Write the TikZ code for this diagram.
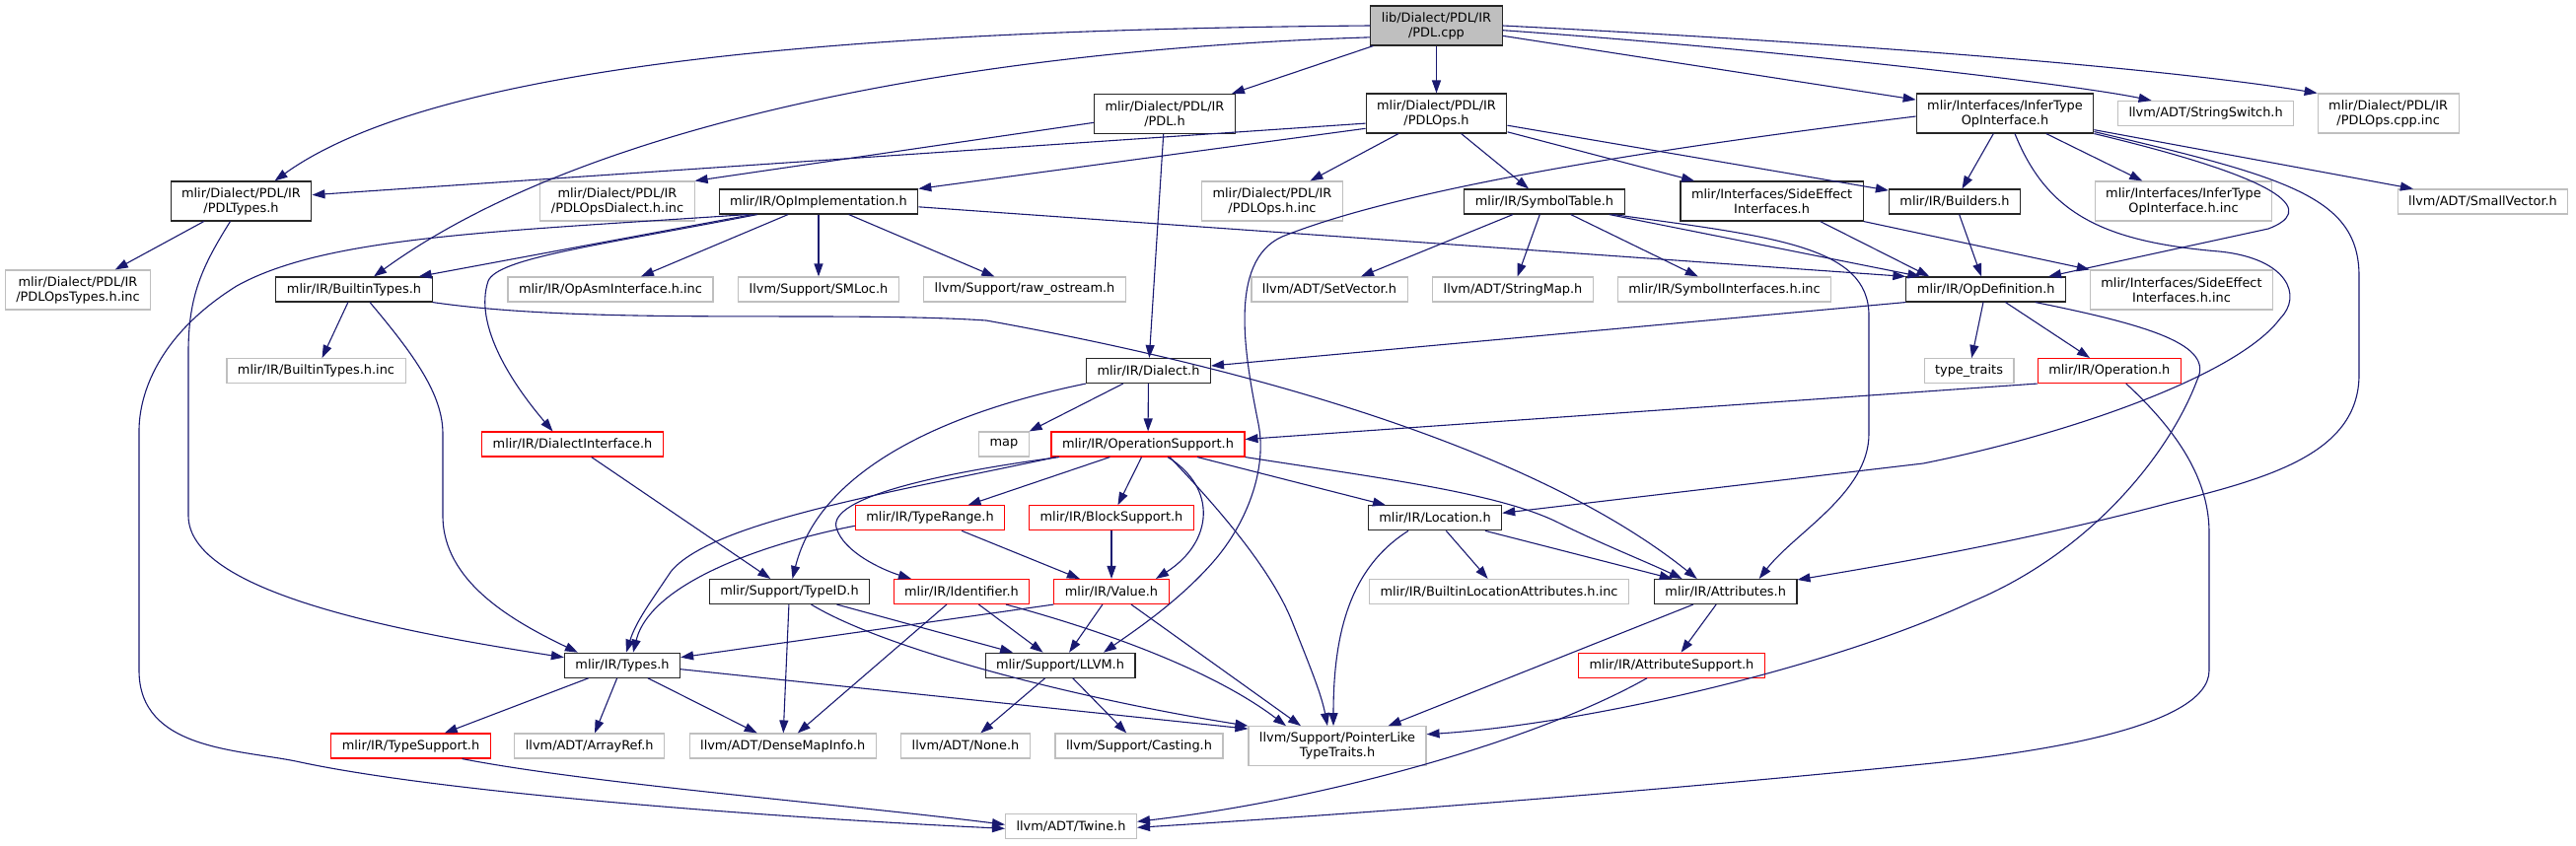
\documentclass[tikz,border=0pt]{standalone}
\usepackage{fontspec}
\setmainfont{DejaVu Sans}
\usetikzlibrary{arrows.meta}

\definecolor{extgray}{HTML}{BFBFBF}
\definecolor{edgeblue}{HTML}{191970}
\newcommand\dxfont{\fontsize{12.9}{15}\selectfont}

\begin{document}
\begin{tikzpicture}[
  x=1pt, y=-1pt,
  hdr/.style={draw=black!85, fill=white, line width=1.1pt, font=\dxfont, inner xsep=11pt, inner ysep=6pt, minimum height=25pt, align=center},
  ext/.style={hdr, draw=extgray},
  inc/.style={hdr, draw=red},
  root/.style={hdr, fill=extgray},
  dep/.style={-{Triangle[length=13pt,width=9pt]}, line width=1.1pt, color=edgeblue}
]
  \useasboundingbox (0,0) rectangle (2612,857);

  % Source file
  \node[root, minimum height=40pt] at (1456.5,26) (pdlcpp) {lib/Dialect/PDL/IR\\/PDL.cpp};

  % First level includes
  \node[hdr, minimum height=40pt] at (1181,115.5) (pdlh) {mlir/Dialect/PDL/IR\\/PDL.h};
  \node[hdr, minimum height=40pt] at (1456.5,115) (pdlops) {mlir/Dialect/PDL/IR\\/PDLOps.h};
  \node[hdr, minimum height=40pt] at (2033,115) (infertype) {mlir/Interfaces/InferType\\OpInterface.h};
  \node[ext] at (2236.6,115) (stringswitch) {llvm/ADT/StringSwitch.h};
  \node[ext, minimum height=40pt] at (2421.6,115) (pdlopscppinc) {mlir/Dialect/PDL/IR\\/PDLOps.cpp.inc};

  % Second level
  \node[hdr, minimum height=40pt] at (244.5,204) (pdltypes) {mlir/Dialect/PDL/IR\\/PDLTypes.h};
  \node[ext, minimum height=40pt] at (626,204) (pdldialectinc) {mlir/Dialect/PDL/IR\\/PDLOpsDialect.h.inc};
  \node[hdr] at (830,204.5) (opimpl) {mlir/IR/OpImplementation.h};
  \node[ext, minimum height=40pt] at (1290,204) (pdlopsinc) {mlir/Dialect/PDL/IR\\/PDLOps.h.inc};
  \node[hdr] at (1566,204.5) (symtab) {mlir/IR/SymbolTable.h};
  \node[hdr, minimum height=40pt] at (1796.6,204) (sideeff) {mlir/Interfaces/SideEffect\\Interfaces.h};
  \node[hdr] at (1982,204.5) (builders) {mlir/IR/Builders.h};
  \node[ext, minimum height=40pt] at (2214,204) (infertypeinc) {mlir/Interfaces/InferType\\OpInterface.h.inc};
  \node[ext] at (2517.5,204.5) (smallvec) {llvm/ADT/SmallVector.h};

  % Third level
  \node[ext, minimum height=40pt] at (79,294) (pdltypesinc) {mlir/Dialect/PDL/IR\\/PDLOpsTypes.h.inc};
  \node[hdr] at (359,293.5) (builtintypes) {mlir/IR/BuiltinTypes.h};
  \node[ext] at (619,293.5) (opasminc) {mlir/IR/OpAsmInterface.h.inc};
  \node[ext] at (830,293.5) (smloc) {llvm/Support/SMLoc.h};
  \node[ext] at (1039,293.5) (rawostream) {llvm/Support/raw\_ostream.h};
  \node[ext] at (1348,293.5) (setvector) {llvm/ADT/SetVector.h};
  \node[ext] at (1534,293.5) (stringmap) {llvm/ADT/StringMap.h};
  \node[ext] at (1748.5,293.5) (symifinc) {mlir/IR/SymbolInterfaces.h.inc};
  \node[hdr] at (2013.7,293.5) (opdef) {mlir/IR/OpDefinition.h};
  \node[ext, minimum height=40pt] at (2212,294) (sideeffinc) {mlir/Interfaces/SideEffect\\Interfaces.h.inc};

  % Dialect row
  \node[ext] at (320.5,376) (builtintypesinc) {mlir/IR/BuiltinTypes.h.inc};
  \node[hdr] at (1164.5,376) (dialect) {mlir/IR/Dialect.h};
  \node[ext] at (1996.5,376) (typetraits) {type\_traits};
  \node[inc] at (2138.8,376) (operation) {mlir/IR/Operation.h};
  \node[inc] at (580.5,450.5) (dialectif) {mlir/IR/DialectInterface.h};
  \node[ext] at (1018,450.5) (map) {map};
  \node[inc] at (1164,450.5) (opsupport) {mlir/IR/OperationSupport.h};

  % Support row
  \node[inc] at (943,525.3) (typerange) {mlir/IR/TypeRange.h};
  \node[inc] at (1127,525.3) (blocksupport) {mlir/IR/BlockSupport.h};
  \node[hdr] at (1455,525.3) (location) {mlir/IR/Location.h};
  \node[hdr] at (800.5,600) (typeid) {mlir/Support/TypeID.h};
  \node[inc] at (975,600) (identifier) {mlir/IR/Identifier.h};
  \node[inc] at (1127,600) (value) {mlir/IR/Value.h};
  \node[ext] at (1520,600) (builtinlocinc) {mlir/IR/BuiltinLocationAttributes.h.inc};
  \node[hdr] at (1749.7,600) (attributes) {mlir/IR/Attributes.h};
  \node[hdr] at (631,674.7) (types) {mlir/IR/Types.h};
  \node[hdr] at (1075,674.7) (llvm) {mlir/Support/LLVM.h};
  \node[inc] at (1695,674.7) (attrsupport) {mlir/IR/AttributeSupport.h};

  % Leaves
  \node[inc] at (416.5,756.5) (typesupport) {mlir/IR/TypeSupport.h};
  \node[ext] at (597.7,756.5) (arrayref) {llvm/ADT/ArrayRef.h};
  \node[ext] at (793.7,756.5) (densemap) {llvm/ADT/DenseMapInfo.h};
  \node[ext] at (979,756.5) (none) {llvm/ADT/None.h};
  \node[ext] at (1155,756.5) (casting) {llvm/Support/Casting.h};
  \node[ext, minimum height=40pt] at (1356,756.7) (pointerlike) {llvm/Support/PointerLike\\TypeTraits.h};
  \node[ext] at (1086,838.3) (twine) {llvm/ADT/Twine.h};

  % from PDL.cpp
  \draw[dep] (pdlcpp.west) .. controls (900,30) and (450,60) .. ([xshift=34pt]pdltypes.north);
  \draw[dep] (pdlcpp.190) .. controls (1000,50) and (600,120) .. ([xshift=20pt]builtintypes.north);
  \draw[dep] ([xshift=3pt]pdlcpp.south west) -- ([xshift=-4pt]pdlh.north east);
  \draw[dep] (pdlcpp) -- (pdlops);
  \draw[dep] (pdlcpp) -- (infertype);
  \draw[dep] (pdlcpp.356) .. controls (1800,50) and (2100,85) .. ([xshift=-55pt]stringswitch.north);
  \draw[dep] (pdlcpp.east) .. controls (1900,45) and (2200,70) .. (pdlopscppinc.north west);

  % from PDL.h and PDLOps.h
  \draw[dep] (pdlh.187) -- (pdldialectinc.north east);
  \draw[dep] (pdlh) -- (dialect);
  \draw[dep] (pdlops.188) -- (pdltypes.5);
  \draw[dep] (pdlops.192) -- (opimpl.north east);
  \draw[dep] (pdlops) -- (pdlopsinc);
  \draw[dep] (pdlops) -- (symtab);
  \draw[dep] (pdlops) -- (sideeff);
  \draw[dep] (pdlops) -- (builders);

  % from InferTypeOpInterface.h
  \draw[dep] (infertype) -- (builders);
  \draw[dep] (infertype) -- (infertypeinc);
  \draw[dep] (infertype) -- (smallvec);
  \draw[dep] (infertype.south east) .. controls (2330,185) and (2345,215) .. (2300,232) -- ([xshift=-18pt]opdef.north east);
  \draw[dep] ([xshift=10pt]infertype.south) .. controls (2075,215) and (2130,245) .. (2250,255) .. controls (2320,262) and (2335,300) .. (2312,323) .. controls (2270,380) and (2100,440) .. (1950,470) -- ([yshift=5pt]location.east);
  \draw[dep] ([yshift=2pt]infertype.south east) .. controls (2320,180) and (2392,200) .. (2392,280) -- (2392,380) .. controls (2392,460) and (2300,485) .. (2200,510) .. controls (2050,550) and (1900,575) .. ([yshift=12pt]attributes.east);
  \draw[dep] ([yshift=-3pt]infertype.west) .. controls (1600,160) and (1400,200) .. (1300,240) .. controls (1245,265) and (1262,360) .. (1276,430) .. controls (1285,475) and (1265,530) .. (1230,570) .. controls (1195,610) and (1150,640) .. ([xshift=44pt]llvm.north);

  % from PDLTypes.h
  \draw[dep] (pdltypes) -- (pdltypesinc);
  \draw[dep] ([xshift=-11pt]pdltypes.south) .. controls (205,270) and (191,300) .. (191,357) -- (191,523) .. controls (191,600) and (400,640) .. ([yshift=8pt]types.west);

  % from OpImplementation.h
  \draw[dep] ([xshift=-67pt]opimpl.south) -- ([xshift=-14pt]builtintypes.north east);
  \draw[dep] (opimpl) -- (opasminc);
  \draw[dep] (opimpl) -- (smloc);
  \draw[dep] (opimpl) -- (rawostream);
  \draw[dep] (opimpl.357) -- (opdef.north west);
  \draw[dep] ([xshift=-62pt]opimpl.south) .. controls (600,250) and (505,262) .. (495,285) .. controls (480,330) and (520,390) .. ([xshift=-20pt]dialectif.north);
  \draw[dep] ([xshift=-72pt]opimpl.south) .. controls (500,235) and (330,240) .. (240,290) .. controls (160,340) and (141,400) .. (141,437) -- (141,680) .. controls (141,760) and (240,760) .. (300,772) .. controls (450,805) and (800,830) .. ([yshift=-2pt]twine.west);

  % from SymbolTable.h, SideEffectInterfaces.h, Builders.h
  \draw[dep] (symtab) -- (setvector);
  \draw[dep] (symtab) -- (stringmap);
  \draw[dep] (symtab) -- (symifinc);
  \draw[dep] ([xshift=-16pt]symtab.south east) -- ([xshift=15pt]opdef.north west);
  \draw[dep] ([xshift=-12pt]symtab.south east) .. controls (1800,240) and (1895,250) .. (1895,320) -- (1895,440) .. controls (1895,500) and (1820,540) .. ([xshift=34pt]attributes.north);
  \draw[dep] ([xshift=49pt]sideeff.south) -- ([xshift=24pt]opdef.north west);
  \draw[dep] (sideeff.south east) -- (sideeffinc.north west);
  \draw[dep] (builders) -- (opdef);

  % from BuiltinTypes.h
  \draw[dep] (builtintypes) -- (builtintypesinc);
  \draw[dep] ([xshift=16pt]builtintypes.south) .. controls (420,360) and (449,400) .. (449,440) -- (449,523) .. controls (449,590) and (520,630) .. ([xshift=14pt]types.north west);
  \draw[dep] (builtintypes.south east) .. controls (600,330) and (850,315) .. (1000,325) .. controls (1250,370) and (1550,450) .. ([xshift=-29pt]attributes.north);

  % from OpDefinition.h
  \draw[dep] (opdef.south west) -- ([yshift=5pt]dialect.east);
  \draw[dep] (opdef) -- (typetraits);
  \draw[dep] (opdef) -- (operation);
  \draw[dep] ([xshift=50pt]opdef.south) .. controls (2180,330) and (2245,350) .. (2228,385) .. controls (2200,460) and (2120,560) .. (2000,610) .. controls (1850,680) and (1600,735) .. ([yshift=12pt]pointerlike.east);

  % from Dialect.h, DialectInterface.h, Operation.h
  \draw[dep] (dialect.south west) .. controls (950,420) and (830,480) .. ([xshift=3pt]typeid.north);
  \draw[dep] (dialect) -- (map);
  \draw[dep] (dialect) -- (opsupport);
  \draw[dep] (dialectif) -- (typeid);
  \draw[dep] (operation.south west) -- ([yshift=5pt]opsupport.east);
  \draw[dep] ([xshift=17pt]operation.south) .. controls (2200,430) and (2240,480) .. (2240,540) -- (2240,680) .. controls (2240,740) and (2050,765) .. (1950,775) .. controls (1600,810) and (1300,830) .. ([yshift=-1pt]twine.east);

  % from OperationSupport.h
  \draw[dep] ([xshift=-93pt]opsupport.south) .. controls (900,500) and (720,530) .. (680,580) .. controls (660,610) and (645,630) .. ([xshift=4pt]types.north);
  \draw[dep] ([xshift=-90pt]opsupport.south) .. controls (950,480) and (840,505) .. (848,535) .. controls (855,560) and (895,578) .. ([xshift=-51pt]identifier.north);
  \draw[dep] (opsupport) -- (typerange);
  \draw[dep] (opsupport) -- (blocksupport);
  \draw[dep] ([xshift=20pt]opsupport.south) .. controls (1235,495) and (1230,550) .. ([xshift=45pt]value.north);
  \draw[dep] ([xshift=50pt]opsupport.south) -- ([xshift=-50pt]location.north);
  \draw[dep] (opsupport.south east) .. controls (1400,485) and (1520,500) .. (1580,530) .. controls (1620,550) and (1670,570) .. ([xshift=-44pt]attributes.north);
  \draw[dep] ([xshift=22pt]opsupport.south) .. controls (1240,520) and (1290,580) .. (1310,630) .. controls (1330,680) and (1340,705) .. ([xshift=-10pt]pointerlike.north);

  % TypeRange.h, BlockSupport.h, Location.h, Attributes.h
  \draw[dep] ([yshift=-8pt]typerange.west) .. controls (780,550) and (660,590) .. ([xshift=11pt]types.north);
  \draw[dep] (typerange) -- (value);
  \draw[dep] (blocksupport) -- (value);
  \draw[dep] ([xshift=-27pt]location.south) .. controls (1370,575) and (1352,640) .. ([xshift=-4pt]pointerlike.north);
  \draw[dep] (location) -- (builtinlocinc);
  \draw[dep] ([xshift=51pt]location.south) -- ([xshift=-54pt]attributes.north);
  \draw[dep] (attributes) -- (pointerlike);
  \draw[dep] (attributes) -- (attrsupport);

  % TypeID.h, Identifier.h, Value.h
  \draw[dep] (typeid) -- (densemap);
  \draw[dep] (typeid) -- (llvm);
  \draw[dep] ([xshift=22pt]typeid.south) .. controls (900,660) and (1100,710) .. (pointerlike.north west);
  \draw[dep] (identifier) -- (densemap);
  \draw[dep] (identifier) -- (llvm);
  \draw[dep] ([xshift=45pt]identifier.south) .. controls (1120,640) and (1230,680) .. ([xshift=-52pt]pointerlike.north);
  \draw[dep] (value.south west) -- ([yshift=8pt]types.east);
  \draw[dep] (value) -- (llvm);
  \draw[dep] ([xshift=20pt]value.south) -- ([xshift=-37pt]pointerlike.north);

  % Types.h, LLVM.h and the support headers
  \draw[dep] (types) -- (typesupport);
  \draw[dep] (types) -- (arrayref);
  \draw[dep] (types) -- (densemap);
  \draw[dep] ([yshift=-4pt]types.east) -- ([yshift=-3pt]pointerlike.north west);
  \draw[dep] (llvm) -- (none);
  \draw[dep] (llvm) -- (casting);
  \draw[dep] ([xshift=52pt]typesupport.south) .. controls (600,795) and (850,815) .. ([yshift=2pt]twine.west);
  \draw[dep] ([xshift=-25pt]attrsupport.south) .. controls (1560,750) and (1350,810) .. ([yshift=5pt]twine.east);

\end{tikzpicture}
\end{document}
